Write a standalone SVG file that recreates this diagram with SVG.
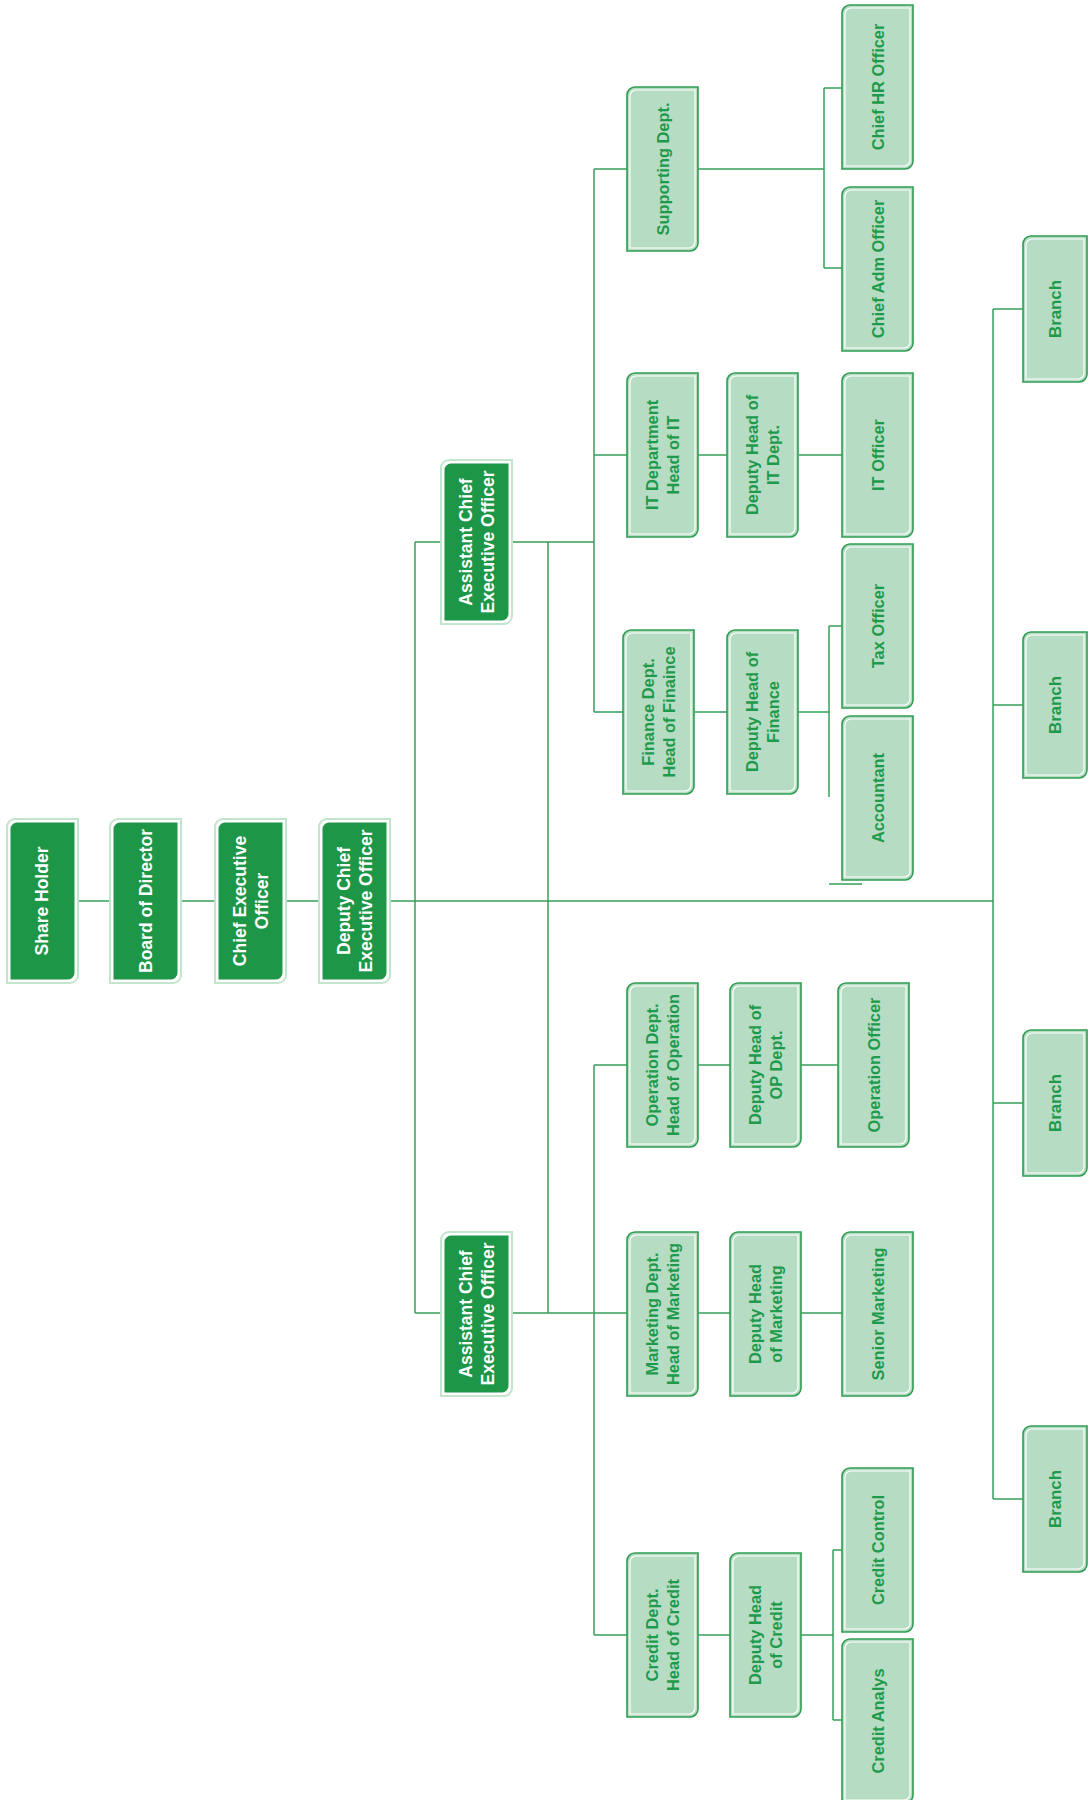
<svg xmlns="http://www.w3.org/2000/svg" xmlns:xlink="http://www.w3.org/1999/xlink" width="1092" height="1800" viewBox="0 0 1092 1800">
<style>
  .ln{stroke:#35a05a;stroke-width:1.5;fill:none}
  .lt{font-family:"Liberation Sans",Arial,sans-serif;font-weight:bold;font-size:16.4px;fill:#1f9a4c;text-anchor:middle;dominant-baseline:central}
  .dt{font-family:"Liberation Sans",Arial,sans-serif;font-weight:bold;font-size:17.5px;fill:#ffffff;text-anchor:middle;dominant-baseline:central}
  .bt{font-size:16.8px}
</style>
<defs>
  <g id="lightBox">
    <path d="M0,8 A8,8 0 0 1 8,0 H71 V156 A8,8 0 0 1 63,164 H0 Z" fill="#b6ddc3" stroke="#2f9d53" stroke-width="1.6"/>
    <path d="M3,9 A6,6 0 0 1 9,3 H68 V155 A6,6 0 0 1 62,161 H3 Z" fill="none" stroke="#ffffff" stroke-width="1.2"/>
  </g>
  <g id="branchBox">
    <path d="M0,8 A8,8 0 0 1 8,0 H64 V138 A8,8 0 0 1 56,146 H0 Z" fill="#b6ddc3" stroke="#2f9d53" stroke-width="1.6"/>
    <path d="M3,9 A6,6 0 0 1 9,3 H61 V137 A6,6 0 0 1 55,143 H3 Z" fill="none" stroke="#ffffff" stroke-width="1.2"/>
  </g>
  <g id="darkBox">
    <path d="M0,8 A8,8 0 0 1 8,0 H71 V156 A8,8 0 0 1 63,164 H0 Z" fill="#ffffff" stroke="#c2e5cc" stroke-width="2"/>
    <path d="M3.5,10 A6.5,6.5 0 0 1 10,3.5 H67.5 V154 A6.5,6.5 0 0 1 61,160.5 H3.5 Z" fill="#1e9648"/>
  </g>
</defs>
<rect width="1092" height="1800" fill="#ffffff"/>

<g id="connectors">
  <path class="ln" d="M77,901 H110 M182,901 H215 M286,901 H319 M390,901 H993"/>
  <path class="ln" d="M415,542 V1313 M415,542 H441 M415,1313 H441"/>
  <path class="ln" d="M512,542 H594 M548,542 V1313 M512,1313 H627"/>
  <path class="ln" d="M594,169 V712"/>
  <path class="ln" d="M594,169 H627 M698,169 H824 M824,88 V268 M824,88 H842 M824,268 H842"/>
  <path class="ln" d="M594,455 H627 M698,455 H727 M799,455 H842"/>
  <path class="ln" d="M594,712 H623 M695,712 H727 M798,712 H829 M829,626 V797 M829,626 H845 M829,884 H862"/>
  <path class="ln" d="M594,1065 V1635"/>
  <path class="ln" d="M594,1065 H627 M698,1065 H730 M801,1065 H838"/>
  <path class="ln" d="M698,1313 H730 M801,1313 H842"/>
  <path class="ln" d="M594,1635 H627 M698,1635 H730 M801,1635 H833 M833,1550 V1720 M833,1550 H842 M833,1720 H842"/>
  <path class="ln" d="M993,309 V1499 M993,309 H1024 M993,705 H1023 M993,1103 H1023 M993,1499 H1023"/>
</g>

<g id="share-holder"><use xlink:href="#darkBox" href="#darkBox" x="7" y="819"/>
  <text class="dt" transform="translate(42,901) rotate(-90)">Share Holder</text></g>
<g id="board"><use xlink:href="#darkBox" href="#darkBox" x="110" y="819"/>
  <text class="dt" transform="translate(146,901) rotate(-90)">Board of Director</text></g>
<g id="ceo"><use xlink:href="#darkBox" href="#darkBox" x="215" y="819"/>
  <text class="dt" transform="translate(250.5,901) rotate(-90)"><tspan x="0" y="-11">Chief Executive</tspan><tspan x="0" y="11">Officer</tspan></text></g>
<g id="dceo"><use xlink:href="#darkBox" href="#darkBox" x="319" y="819"/>
  <text class="dt" transform="translate(354.5,901) rotate(-90)"><tspan x="0" y="-11">Deputy Chief</tspan><tspan x="0" y="11">Executive Officer</tspan></text></g>
<g id="aceo-1"><use xlink:href="#darkBox" href="#darkBox" x="441" y="460"/>
  <text class="dt" transform="translate(476.5,542) rotate(-90)"><tspan x="0" y="-11">Assistant Chief</tspan><tspan x="0" y="11">Executive Officer</tspan></text></g>
<g id="aceo-2"><use xlink:href="#darkBox" href="#darkBox" x="441" y="1232"/>
  <text class="dt" transform="translate(476.5,1314) rotate(-90)"><tspan x="0" y="-11">Assistant Chief</tspan><tspan x="0" y="11">Executive Officer</tspan></text></g>

<g id="supporting"><use xlink:href="#lightBox" href="#lightBox" x="627" y="87"/>
  <text class="lt" transform="translate(662.5,169) rotate(-90)">Supporting Dept.</text></g>
<g id="chief-hr"><use xlink:href="#lightBox" href="#lightBox" x="842" y="5"/>
  <text class="lt" transform="translate(877.5,87) rotate(-90)">Chief HR Officer</text></g>
<g id="chief-adm"><use xlink:href="#lightBox" href="#lightBox" x="842" y="187"/>
  <text class="lt" transform="translate(877.5,269) rotate(-90)">Chief Adm Officer</text></g>

<g id="it-dept"><use xlink:href="#lightBox" href="#lightBox" x="627" y="373"/>
  <text class="lt" transform="translate(662.5,455) rotate(-90)"><tspan x="0" y="-10.5">IT Department</tspan><tspan x="0" y="10.5">Head of IT</tspan></text></g>
<g id="deputy-it"><use xlink:href="#lightBox" href="#lightBox" x="727" y="373"/>
  <text class="lt" transform="translate(762.5,455) rotate(-90)"><tspan x="0" y="-10.5">Deputy Head of</tspan><tspan x="0" y="10.5">IT Dept.</tspan></text></g>
<g id="it-officer"><use xlink:href="#lightBox" href="#lightBox" x="842" y="373"/>
  <text class="lt" transform="translate(877.5,455) rotate(-90)">IT Officer</text></g>

<g id="finance-dept"><use xlink:href="#lightBox" href="#lightBox" x="623" y="630"/>
  <text class="lt" transform="translate(658.5,712) rotate(-90)"><tspan x="0" y="-10.5">Finance Dept.</tspan><tspan x="0" y="10.5">Head of Finaince</tspan></text></g>
<g id="deputy-finance"><use xlink:href="#lightBox" href="#lightBox" x="727" y="630"/>
  <text class="lt" transform="translate(762.5,712) rotate(-90)"><tspan x="0" y="-10.5">Deputy Head of</tspan><tspan x="0" y="10.5">Finance</tspan></text></g>
<g id="tax-officer"><use xlink:href="#lightBox" href="#lightBox" x="842" y="544"/>
  <text class="lt" transform="translate(877.5,626) rotate(-90)">Tax Officer</text></g>
<g id="accountant"><use xlink:href="#lightBox" href="#lightBox" x="842" y="716"/>
  <text class="lt" transform="translate(877.5,798) rotate(-90)">Accountant</text></g>

<g id="operation-dept"><use xlink:href="#lightBox" href="#lightBox" x="627" y="983"/>
  <text class="lt" transform="translate(662.5,1065) rotate(-90)"><tspan x="0" y="-10.5">Operation Dept.</tspan><tspan x="0" y="10.5">Head of Operation</tspan></text></g>
<g id="deputy-op"><use xlink:href="#lightBox" href="#lightBox" x="730" y="983"/>
  <text class="lt" transform="translate(765.5,1065) rotate(-90)"><tspan x="0" y="-10.5">Deputy Head of</tspan><tspan x="0" y="10.5">OP Dept.</tspan></text></g>
<g id="operation-officer"><use xlink:href="#lightBox" href="#lightBox" x="838" y="983"/>
  <text class="lt" transform="translate(873.5,1065) rotate(-90)">Operation Officer</text></g>

<g id="marketing-dept"><use xlink:href="#lightBox" href="#lightBox" x="627" y="1232"/>
  <text class="lt" transform="translate(662.5,1314) rotate(-90)"><tspan x="0" y="-10.5">Marketing Dept.</tspan><tspan x="0" y="10.5">Head of Marketing</tspan></text></g>
<g id="deputy-marketing"><use xlink:href="#lightBox" href="#lightBox" x="730" y="1232"/>
  <text class="lt" transform="translate(765.5,1314) rotate(-90)"><tspan x="0" y="-10.5">Deputy Head</tspan><tspan x="0" y="10.5">of Marketing</tspan></text></g>
<g id="senior-marketing"><use xlink:href="#lightBox" href="#lightBox" x="842" y="1232"/>
  <text class="lt" transform="translate(877.5,1314) rotate(-90)">Senior Marketing</text></g>

<g id="credit-dept"><use xlink:href="#lightBox" href="#lightBox" x="627" y="1553"/>
  <text class="lt" transform="translate(662.5,1635) rotate(-90)"><tspan x="0" y="-10.5">Credit Dept.</tspan><tspan x="0" y="10.5">Head of Credit</tspan></text></g>
<g id="deputy-credit"><use xlink:href="#lightBox" href="#lightBox" x="730" y="1553"/>
  <text class="lt" transform="translate(765.5,1635) rotate(-90)"><tspan x="0" y="-10.5">Deputy Head</tspan><tspan x="0" y="10.5">of Credit</tspan></text></g>
<g id="credit-control"><use xlink:href="#lightBox" href="#lightBox" x="842" y="1468"/>
  <text class="lt" transform="translate(877.5,1550) rotate(-90)">Credit Control</text></g>
<g id="credit-analys"><use xlink:href="#lightBox" href="#lightBox" x="842" y="1639"/>
  <text class="lt" transform="translate(877.5,1721) rotate(-90)">Credit Analys</text></g>

<g id="branch-1"><use xlink:href="#branchBox" href="#branchBox" x="1023" y="236"/>
  <text class="lt bt" transform="translate(1055,309) rotate(-90)">Branch</text></g>
<g id="branch-2"><use xlink:href="#branchBox" href="#branchBox" x="1023" y="632"/>
  <text class="lt bt" transform="translate(1055,705) rotate(-90)">Branch</text></g>
<g id="branch-3"><use xlink:href="#branchBox" href="#branchBox" x="1023" y="1030"/>
  <text class="lt bt" transform="translate(1055,1103) rotate(-90)">Branch</text></g>
<g id="branch-4"><use xlink:href="#branchBox" href="#branchBox" x="1023" y="1426"/>
  <text class="lt bt" transform="translate(1055,1499) rotate(-90)">Branch</text></g>
</svg>
